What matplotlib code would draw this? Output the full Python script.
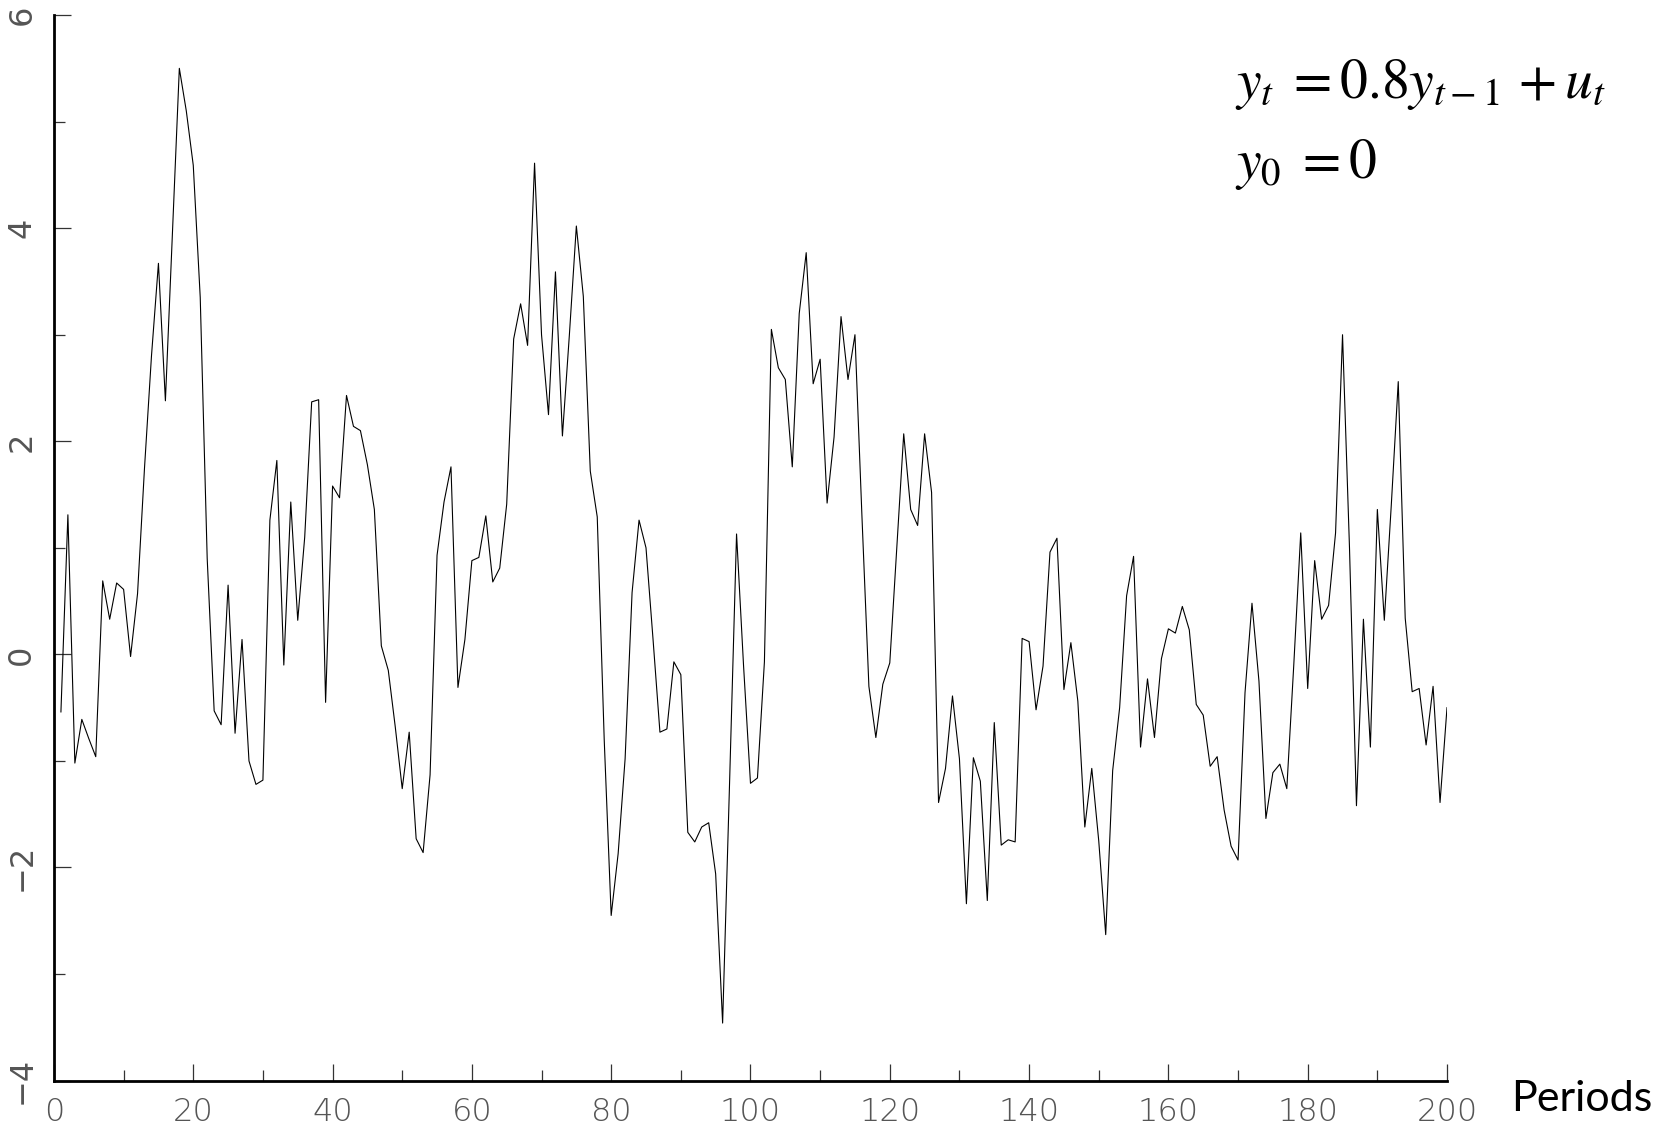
import matplotlib
matplotlib.use("Agg")
import matplotlib.pyplot as plt
from matplotlib.ticker import MultipleLocator

# --- data (periods 1..200) ---
periods = list(range(1, 201))
y_values = [
    -0.54, 1.31, -1.02, -0.61, -0.79, -0.96, 0.69, 0.33, 0.67, 0.61,
    -0.02, 0.57, 1.75, 2.80, 3.67, 2.38, 3.95, 5.50, 5.10, 4.59,
    3.35, 0.90, -0.53, -0.66, 0.65, -0.74, 0.14, -1.00, -1.22, -1.18,
    1.26, 1.82, -0.10, 1.43, 0.32, 1.10, 2.37, 2.39, -0.45, 1.58,
    1.47, 2.43, 2.14, 2.10, 1.78, 1.36, 0.08, -0.15, -0.68, -1.26,
    -0.73, -1.73, -1.86, -1.13, 0.93, 1.43, 1.76, -0.31, 0.14, 0.88,
    0.91, 1.30, 0.68, 0.81, 1.41, 2.96, 3.29, 2.90, 4.61, 3.00,
    2.25, 3.59, 2.05, 3.00, 4.02, 3.36, 1.72, 1.29, -0.80, -2.45,
    -1.87, -0.98, 0.58, 1.26, 1.00, 0.15, -0.73, -0.70, -0.07, -0.19,
    -1.67, -1.76, -1.62, -1.58, -2.06, -3.46, -1.20, 1.13, -0.10, -1.21,
    -1.16, -0.07, 3.05, 2.69, 2.58, 1.76, 3.20, 3.77, 2.54, 2.77,
    1.42, 2.04, 3.17, 2.58, 3.00, 1.30, -0.30, -0.78, -0.28, -0.08,
    1.00, 2.07, 1.36, 1.21, 2.07, 1.52, -1.39, -1.07, -0.39, -0.98,
    -2.34, -0.97, -1.19, -2.31, -0.64, -1.79, -1.74, -1.76, 0.15, 0.12,
    -0.52, -0.11, 0.96, 1.09, -0.33, 0.11, -0.44, -1.62, -1.07, -1.75,
    -2.63, -1.09, -0.50, 0.55, 0.92, -0.87, -0.23, -0.78, -0.04, 0.24,
    0.20, 0.45, 0.23, -0.47, -0.57, -1.05, -0.96, -1.46, -1.80, -1.93,
    -0.36, 0.48, -0.25, -1.54, -1.11, -1.03, -1.26, -0.10, 1.14, -0.32,
    0.88, 0.33, 0.46, 1.14, 3.00, 1.00, -1.42, 0.33, -0.87, 1.36,
    0.32, 1.40, 2.56, 0.34, -0.35, -0.32, -0.85, -0.30, -1.39, -0.50,
]

x_ticks = list(range(0, 201, 20))
y_ticks = [-4, -2, 0, 2, 4, 6]
y_tick_labels = ["\u22124", "\u22122", "0", "2", "4", "6"]

plt.rcParams['mathtext.fontset'] = 'stix'
tick_font = ['Liberation Sans Narrow', 'DejaVu Sans']

fig = plt.figure(figsize=(16.81, 11.32), dpi=100)
ax = fig.add_axes([0.0321, 0.0454, 0.8287, 0.9413])

ax.plot(periods, y_values, color='black', linewidth=0.8)

ax.set_xlim(0, 200)
ax.set_ylim(-4, 6)

for side in ['top', 'right']:
    ax.spines[side].set_visible(False)
for side in ['left', 'bottom']:
    ax.spines[side].set_linewidth(2.0)
    ax.spines[side].set_color('black')

ax.set_xticks(x_ticks)
ax.set_xticklabels([str(v) for v in x_ticks], family=tick_font,
                   fontsize=23, color='#555555', fontweight='light')
ax.xaxis.set_minor_locator(MultipleLocator(10))
ax.set_yticks(y_ticks)
ax.set_yticklabels(y_tick_labels, family=tick_font, fontsize=23,
                   color='#555555', rotation=90, va='center')
ax.yaxis.set_minor_locator(MultipleLocator(1))

ax.tick_params(axis='both', which='major', direction='in', length=12,
               width=0.9, color='#333333')
ax.tick_params(axis='both', which='minor', direction='in', length=8,
               width=0.9, color='#333333')
ax.tick_params(axis='x', which='major', pad=12)
ax.tick_params(axis='y', which='major', pad=12)

fig.text(0.8990, 0.029, "Periods", family=['Lato', 'DejaVu Sans'],
         fontsize=31, color='black', ha='left', va='center')

ax.text(0.848, 0.935, r"$y_t\;=0.8y_{t-1}\,+u_t$", transform=ax.transAxes,
        fontsize=40, ha='left', va='center')
ax.text(0.848, 0.86, r"$y_0\;=0$", transform=ax.transAxes,
        fontsize=40, ha='left', va='center')

fig.savefig("out.png", dpi=100, facecolor='white')
